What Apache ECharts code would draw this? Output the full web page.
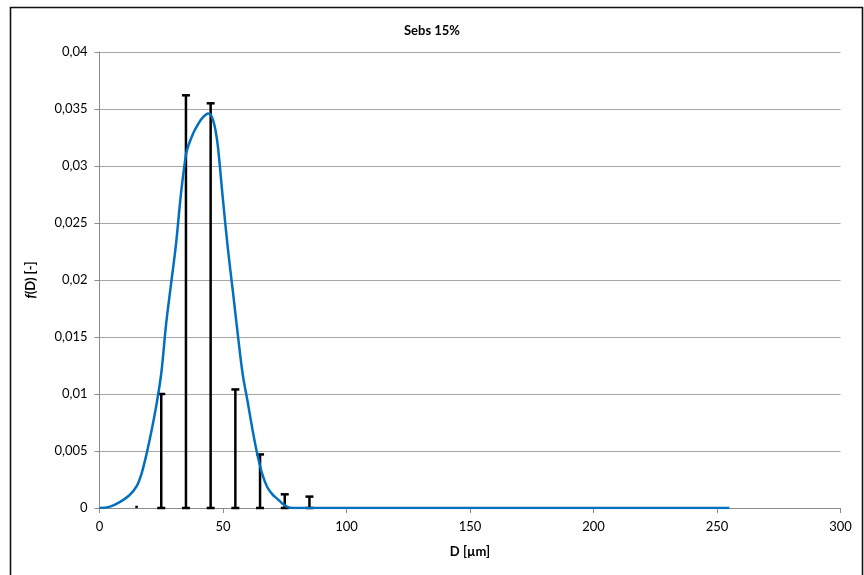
<!DOCTYPE html>
<html>
<head>
<meta charset="utf-8">
<script src="https://cdn.jsdelivr.net/npm/echarts@6/dist/echarts.min.js"></script>
<style>
  html, body { margin: 0; padding: 0; background: #fff; }
  #chart { width: 864px; height: 575px; }
</style>
</head>
<body>
<div id="chart"></div>
<script>
// Measured size classes (µm) and their frequency, drawn as capped stems
const classD = [15, 25, 35, 45, 55, 65, 75, 85];
const classF = [0.0002, 0.0100, 0.0362, 0.0355, 0.0104, 0.0047, 0.0012, 0.0010];

// Fitted distribution curve f(D)
const curveD = [0, 4, 8, 12, 15, 17, 19, 21, 23, 25, 27, 29, 31, 33, 35, 36, 38, 40, 42, 44, 45, 46, 47, 48, 50, 52, 54, 56, 58, 60, 62, 64, 66, 68, 70, 72, 74, 76, 78, 80, 100, 150, 200, 255];
const curveF = [0, 0.0001, 0.0005, 0.0011, 0.0019, 0.0030, 0.0047, 0.0067, 0.0090, 0.0118, 0.0162, 0.0197, 0.0232, 0.0276, 0.0310, 0.0318, 0.0329, 0.0337, 0.0343, 0.0346, 0.0345, 0.0340, 0.0331, 0.0316, 0.0270, 0.0227, 0.0190, 0.0152, 0.0117, 0.0093, 0.0068, 0.0046, 0.0029, 0.0018, 0.0012, 0.0008, 0.0004, 0.0001, 0, 0, 0, 0, 0, 0];

const chartTitle = 'Sebs 15%';
const xName = 'D [µm]';

const FONT = 'Lato, "Open Sans", sans-serif';
const comma = v => String(+v.toFixed(4)).replace('.', ',');

const chart = echarts.init(document.getElementById('chart'), null, { renderer: 'canvas' });

chart.setOption({
  backgroundColor: '#fff',
  animation: false,
  title: {
    text: chartTitle,
    left: 'center',
    top: 19,
    textStyle: { fontFamily: FONT, fontSize: 13, fontWeight: 'bold', color: '#000' }
  },
  graphic: [{
    type: 'rect',
    shape: { x: 10.5, y: 7.5, width: 852, height: 620 },
    style: { fill: 'none', stroke: '#111', lineWidth: 1.6 },
    silent: true
  }],
  grid: { left: 99.5, right: 23.5, top: 52, bottom: 67, containLabel: false },
  xAxis: {
    type: 'value',
    min: 0, max: 300, interval: 50,
    name: xName,
    nameLocation: 'middle',
    nameGap: 37,
    nameTextStyle: { fontFamily: FONT, fontSize: 13, fontWeight: 'bold', color: '#000' },
    axisLine: { onZero: false, lineStyle: { color: '#8c8c8c', width: 1 } },
    axisTick: { show: true, inside: false, length: 5, lineStyle: { color: '#8c8c8c' } },
    axisLabel: { fontFamily: FONT, fontSize: 13, color: '#000', margin: 12 },
    splitLine: { show: false }
  },
  yAxis: {
    type: 'value',
    min: 0, max: 0.04, interval: 0.005,
    name: '{i|f}{b|(D) [-]}',
    nameLocation: 'middle',
    nameGap: 62,
    nameRotate: 90,
    nameTextStyle: {
      rich: {
        i: { fontFamily: FONT, fontSize: 13, fontWeight: 'bold', fontStyle: 'italic', color: '#000' },
        b: { fontFamily: FONT, fontSize: 13, fontWeight: 'bold', color: '#000' }
      }
    },
    axisLine: { show: true, lineStyle: { color: '#8c8c8c', width: 1 } },
    axisTick: { show: true, inside: false, length: 5, lineStyle: { color: '#8c8c8c' } },
    axisLabel: { fontFamily: FONT, fontSize: 13, color: '#000', margin: 12, formatter: comma },
    splitLine: { show: true, lineStyle: { color: '#a6a6a6', width: 1 } }
  },
  series: [
    {
      type: 'custom',
      name: 'classes',
      z: 3,
      data: classD.map((d, i) => [d, classF[i]]),
      renderItem: (params, api) => {
        const x = api.value(0);
        const top = api.coord([x, api.value(1)]);
        const base = api.coord([x, 0]);
        const style = { stroke: '#000', lineWidth: 2.5, fill: 'none' };
        const children = [
          { type: 'line', shape: { x1: base[0], y1: base[1], x2: top[0], y2: top[1] }, style }
        ];
        // stems too short to carry caps are drawn as a plain dot
        if (base[1] - top[1] > 4) {
          children.push(
            { type: 'line', shape: { x1: top[0] - 4, y1: top[1], x2: top[0] + 4, y2: top[1] }, style },
            { type: 'line', shape: { x1: base[0] - 4, y1: base[1], x2: base[0] + 4, y2: base[1] }, style }
          );
        }
        return { type: 'group', children };
      }
    },
    {
      type: 'line',
      name: 'f(D)',
      z: 4,
      data: curveD.map((d, i) => [d, curveF[i]]),
      showSymbol: false,
      smooth: 0.35,
      lineStyle: { color: '#0070c0', width: 2.5 },
      itemStyle: { color: '#0070c0' }
    }
  ]
});
</script>
</body>
</html>
